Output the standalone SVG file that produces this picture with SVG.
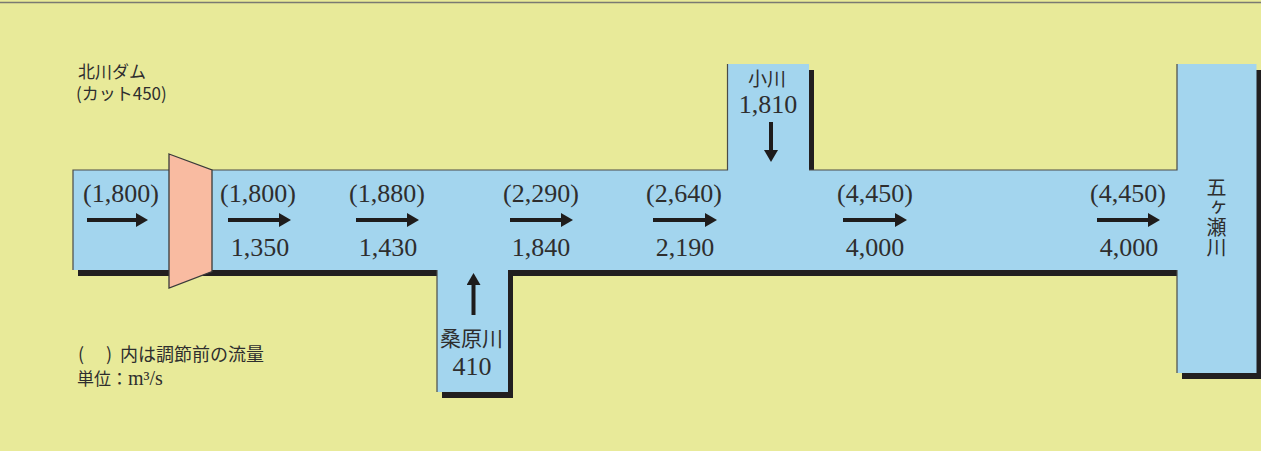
<svg xmlns="http://www.w3.org/2000/svg" width="1261" height="451" viewBox="0 0 1261 451">
<defs>
<style>
.num{font-family:"Liberation Serif","Times New Roman",serif;font-size:26px;fill:#2e2e2e;text-anchor:middle}
.jp{font-family:"Noto Sans CJK JP","Noto Sans",sans-serif;fill:#2e2e2e}
.arr{stroke:#1e1c1c;stroke-width:4;fill:none}
.edge{stroke:#4a4a48;stroke-width:1.2;fill:none}
</style>
<marker id="ah" viewBox="0 0 12 14" markerWidth="12" markerHeight="14" refX="1" refY="7" orient="auto" markerUnits="userSpaceOnUse">
<path d="M0,0 L12,7 L0,14 Z" fill="#1e1c1c"/>
</marker>
<polygon id="river" points="73,170 727.5,170 727.5,64 809,64 809,170 1177,170 1177,64 1256.5,64 1256.5,373 1177,373 1177,270 508,270 508,392 437,392 437,270 73,270"/>
</defs>
<rect x="0" y="0" width="1261" height="451" fill="#E8EA99"/>
<line x1="0" y1="2.5" x2="1261" y2="2.5" stroke="#7a7a72" stroke-width="1.6"/>
<g id="river-body">
<use href="#river" transform="translate(5,6)" fill="#221f20"/>
<use href="#river" fill="#A3D5EE"/>
<polyline class="edge" points="73,270 73,170 727.5,170 727.5,64"/>
<polyline class="edge" points="809,170 1177,170 1177,64"/>
<line class="edge" x1="437" y1="270" x2="437" y2="392"/>
<line class="edge" x1="1177" y1="270" x2="1177" y2="373"/>
</g>
<g id="dam">
<polygon points="169,154 212,170 212,271.5 169,288" fill="#F9BBA1" stroke="#3a3a3a" stroke-width="1.3"/>
</g>
<g id="connectors">
<line class="arr" x1="87" y1="220" x2="137" y2="220" marker-end="url(#ah)"/>
<line class="arr" x1="228" y1="220" x2="280" y2="220" marker-end="url(#ah)"/>
<line class="arr" x1="356" y1="220" x2="408" y2="220" marker-end="url(#ah)"/>
<line class="arr" x1="510" y1="220" x2="562" y2="220" marker-end="url(#ah)"/>
<line class="arr" x1="653" y1="220" x2="706" y2="220" marker-end="url(#ah)"/>
<line class="arr" x1="843" y1="220" x2="896" y2="220" marker-end="url(#ah)"/>
<line class="arr" x1="1097" y1="220" x2="1149" y2="220" marker-end="url(#ah)"/>
<line class="arr" x1="771" y1="122" x2="771" y2="151" marker-end="url(#ah)"/>
<line class="arr" x1="473.5" y1="315" x2="473.5" y2="284" marker-end="url(#ah)"/>
</g>
<g id="labels-flow">
<text class="num" x="121" y="202">(1,800)</text>
<text class="num" x="258" y="202">(1,800)</text>
<text class="num" x="260" y="256">1,350</text>
<text class="num" x="387" y="202">(1,880)</text>
<text class="num" x="388" y="256">1,430</text>
<text class="num" x="541" y="202">(2,290)</text>
<text class="num" x="541" y="256">1,840</text>
<text class="num" x="684" y="202">(2,640)</text>
<text class="num" x="685" y="256">2,190</text>
<text class="num" x="875" y="202">(4,450)</text>
<text class="num" x="875" y="256">4,000</text>
<text class="num" x="1128" y="202">(4,450)</text>
<text class="num" x="1129" y="256">4,000</text>
</g>
<g id="node-kitagawa-dam">
<text class="jp" x="78" y="78" font-size="17">北川ダム</text>
<text class="jp" x="76" y="100" font-size="17">(カット450)</text>
</g>
<g id="node-ogawa">
<text class="jp" x="767" y="86" font-size="19" text-anchor="middle">小川</text>
<text class="num" x="768" y="113">1,810</text>
</g>
<g id="node-kuwabara">
<text class="jp" x="471.5" y="346" font-size="21" text-anchor="middle">桑原川</text>
<text class="num" x="472" y="375" font-size="21">410</text>
</g>
<g id="node-gokase">
<text class="jp" x="1216.5" y="177" font-size="20" writing-mode="vertical-rl">五ヶ瀬川</text>
</g>
<g id="legend">
<text class="jp" y="361" font-size="18"><tspan x="78">(</tspan><tspan x="106">)</tspan><tspan x="120">内は調節前の流量</tspan></text>
<text x="77" y="385" font-size="17" fill="#2e2e2e"><tspan font-family="Noto Sans CJK JP, sans-serif">単位：</tspan><tspan font-family="Liberation Serif, serif" font-size="20">m³/s</tspan></text>
</g>
</svg>
